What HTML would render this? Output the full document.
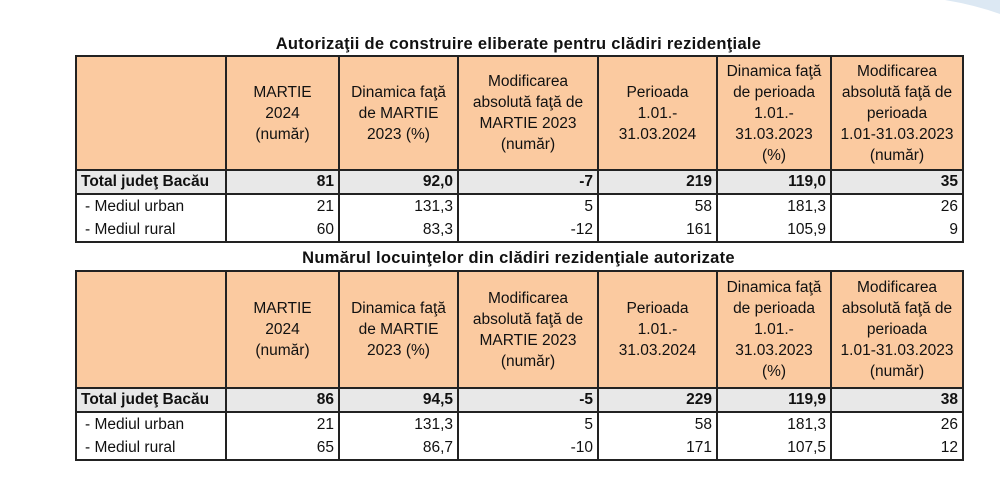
<!DOCTYPE html>
<html><head><meta charset="utf-8">
<style>
body{margin:0;width:1000px;height:477px;background:#fff;position:relative;overflow:hidden;font-family:"Liberation Sans",Arial,sans-serif;color:#111}
.title{position:absolute;left:75px;width:887px;text-align:center;font-weight:bold;font-size:16.5px;letter-spacing:0.3px}
table{position:absolute;left:75px;border-collapse:collapse;table-layout:fixed;width:887px;font-size:15.5px}
td{border:2px solid #222;padding:0 4px;line-height:21px}
tr.hdr td{background:#fbcaa0;text-align:center;vertical-align:middle;line-height:21px}
tr.tot td{background:#e8e8e8;font-weight:bold;text-align:right;height:22px;line-height:22px}
tr.tot td:first-child{text-align:left}
tr.d td{text-align:right;height:23px;line-height:23px}
tr.d td:first-child{text-align:left;padding-left:8px}
tr.d1 td{border-bottom:none}
tr.d2 td{border-top:none}
</style></head><body>
<svg style="position:absolute;left:0;top:0" width="1000" height="477"><path d="M945 0 L1000 0 L1000 14 Q975 5 945 0Z" fill="#dce8f3"/></svg>

<div class="title" style="top:35px">Autorizaţii de construire eliberate pentru clădiri rezidenţiale</div>
<table style="top:55px">
<colgroup><col style="width:150px"><col style="width:113px"><col style="width:119px"><col style="width:140px"><col style="width:119px"><col style="width:114px"><col style="width:132px"></colgroup>
<tr class="hdr" style="height:114px">
<td></td><td>MARTIE<br>2024<br>(număr)</td><td>Dinamica faţă<br>de MARTIE<br>2023 (%)</td><td>Modificarea<br>absolută faţă de<br>MARTIE 2023<br>(număr)</td><td>Perioada<br>1.01.-<br>31.03.2024</td><td>Dinamica faţă<br>de perioada<br>1.01.-<br>31.03.2023<br>(%)</td><td>Modificarea<br>absolută faţă de<br>perioada<br>1.01-31.03.2023<br>(număr)</td></tr>
<tr class="tot"><td>Total judeţ Bacău</td><td>81</td><td>92,0</td><td>-7</td><td>219</td><td>119,0</td><td>35</td></tr>
<tr class="d d1"><td>- Mediul urban</td><td>21</td><td>131,3</td><td>5</td><td>58</td><td>181,3</td><td>26</td></tr>
<tr class="d d2"><td>- Mediul rural</td><td>60</td><td>83,3</td><td>-12</td><td>161</td><td>105,9</td><td>9</td></tr>
</table>

<div class="title" style="top:249px">Numărul locuinţelor din clădiri rezidenţiale autorizate</div>
<table style="top:270px">
<colgroup><col style="width:150px"><col style="width:113px"><col style="width:119px"><col style="width:140px"><col style="width:119px"><col style="width:114px"><col style="width:132px"></colgroup>
<tr class="hdr" style="height:117px">
<td></td><td>MARTIE<br>2024<br>(număr)</td><td>Dinamica faţă<br>de MARTIE<br>2023 (%)</td><td>Modificarea<br>absolută faţă de<br>MARTIE 2023<br>(număr)</td><td>Perioada<br>1.01.-<br>31.03.2024</td><td>Dinamica faţă<br>de perioada<br>1.01.-<br>31.03.2023<br>(%)</td><td>Modificarea<br>absolută faţă de<br>perioada<br>1.01-31.03.2023<br>(număr)</td></tr>
<tr class="tot"><td>Total judeţ Bacău</td><td>86</td><td>94,5</td><td>-5</td><td>229</td><td>119,9</td><td>38</td></tr>
<tr class="d d1"><td>- Mediul urban</td><td>21</td><td>131,3</td><td>5</td><td>58</td><td>181,3</td><td>26</td></tr>
<tr class="d d2"><td>- Mediul rural</td><td>65</td><td>86,7</td><td>-10</td><td>171</td><td>107,5</td><td>12</td></tr>
</table>
</body></html>
